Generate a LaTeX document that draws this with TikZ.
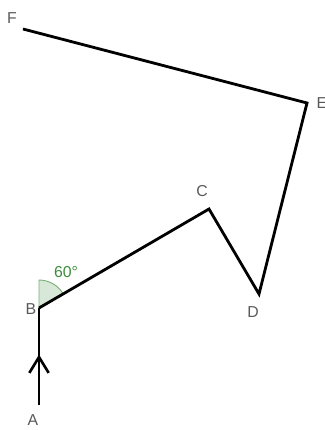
\documentclass[tikz,border=0pt]{standalone}
\usepackage{fontspec}
\setsansfont{Liberation Sans}
\usetikzlibrary{arrows.meta, decorations.markings}
\definecolor{labelgray}{RGB}{90, 90, 90}
\definecolor{anglegreen}{RGB}{60, 140, 60}

\begin{document}
\begin{tikzpicture}[x=0.02cm, y=0.02cm,
      seg/.style={line width=1.6pt, black, line join=miter},
      ptlabel/.style={font=\sffamily\small, text=labelgray, inner sep=0pt},
      midarrow/.style={postaction={decorate}, decoration={markings,
                  mark=at position 0.52 with {\arrow{Straight Barb[length=9pt, width=11pt, line width=1.5pt]}}}},
      wedge/.style={fill=anglegreen!20, draw=anglegreen!70, line width=0.5pt}]
    \useasboundingbox (0,0) rectangle (325,430);
    % path points
    \coordinate (A) at (39,25);
    \coordinate (B) at (39,122);
    \coordinate (C) at (209,221);
    \coordinate (D) at (259,136);
    \coordinate (E) at (307,327);
    \coordinate (F) at (23,401);
    % angle at B
    \filldraw[wedge] (B) -- ++(90:0.56cm) arc (90:30:0.56cm) -- cycle;
    \node[font=\sffamily\small, text=anglegreen, inner sep=0pt] (ang) at (66,158) {60\textdegree};
    % the walk
    \draw[seg, midarrow] (A) -- (B);
    \draw[seg] (B) -- (C) -- (D) -- (E) -- (F);
    % labels
    \node[ptlabel] (lA) at (33,10)  {A};
    \node[ptlabel] (lB) at (31,121) {B};
    \node[ptlabel] (lC) at (202,239) {C};
    \node[ptlabel] (lD) at (253,118) {D};
    \node[ptlabel] (lE) at (322,327) {E};
    \node[ptlabel] (lF) at (12,412) {F};
  \end{tikzpicture}
\end{document}
